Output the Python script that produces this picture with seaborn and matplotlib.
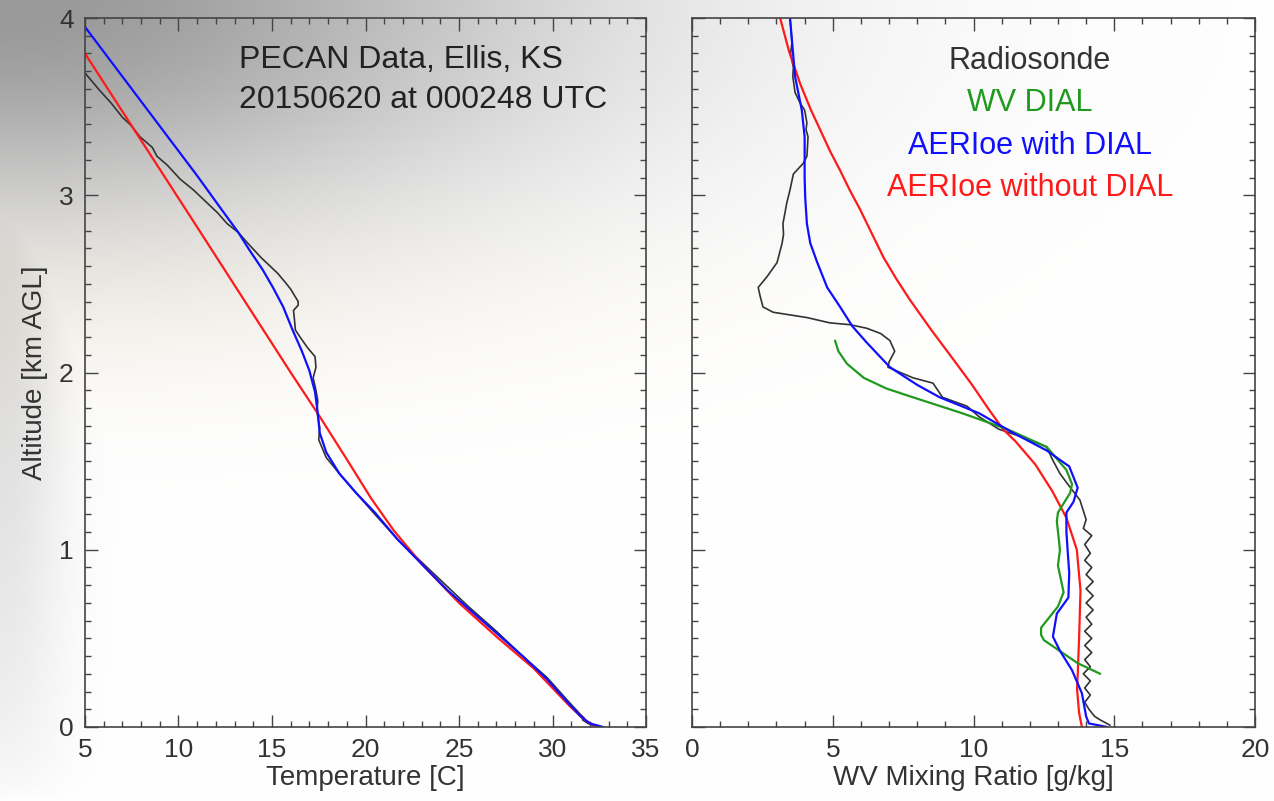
import numpy as np
import matplotlib
matplotlib.use("Agg")
import matplotlib.pyplot as plt
import seaborn as sns

# ---- data ----
# temperature panel (x = deg C, y = km AGL)
t_sonde = [5.0, 5.8, 6.4, 6.7, 7.0, 7.5, 7.94, 8.6, 8.85, 9.4, 10.1, 10.8, 11.5, 12.1,
           12.6, 13.2, 13.7, 14.4, 14.8, 15.3, 15.7, 16.0, 16.4, 16.4, 16.15, 16.2, 16.25,
           16.5, 16.9, 17.3, 17.35, 17.2, 17.35, 17.45, 17.4, 17.5, 17.55, 17.5, 17.7, 17.9,
           18.6, 19.5, 20.5, 21.7, 22.8, 24.0, 24.6, 25.5, 27.0, 28.3, 29.7, 30.8, 31.5,
           31.7, 31.6, 31.9, 32.4]
z_t_sonde = [3.69, 3.59, 3.52, 3.48, 3.44, 3.39, 3.33, 3.27, 3.22, 3.17, 3.09, 3.03, 2.96, 2.90,
             2.84, 2.79, 2.73, 2.65, 2.61, 2.56, 2.51, 2.47, 2.40, 2.38, 2.35, 2.30, 2.24,
             2.20, 2.14, 2.09, 2.03, 1.97, 1.90, 1.84, 1.78, 1.72, 1.69, 1.62, 1.57, 1.52,
             1.43, 1.32, 1.20, 1.06, 0.95, 0.83, 0.77, 0.68, 0.54, 0.41, 0.28, 0.15, 0.07,
             0.05, 0.04, 0.02, 0.0]

t_with = [5.0, 6.5, 8.0, 9.5, 11.0, 12.3, 13.2, 13.8, 14.5, 15.05, 15.6, 16.1, 16.6, 17.0,
          17.3, 17.45, 17.55, 17.9, 18.6, 19.5, 20.5, 21.7, 23.0, 24.4, 25.7, 27.0, 28.4,
          29.7, 30.8, 31.5, 32.0, 32.7]
z_t_with = [3.95, 3.74, 3.53, 3.32, 3.11, 2.92, 2.79, 2.69, 2.58, 2.48, 2.37, 2.24, 2.12, 2.01,
            1.89, 1.77, 1.66, 1.55, 1.43, 1.32, 1.21, 1.06, 0.92, 0.77, 0.65, 0.53, 0.40,
            0.27, 0.14, 0.06, 0.02, 0.0]

t_without = [5.0, 8.0, 11.0, 13.5, 16.0, 17.5, 19.0, 20.3, 21.5, 23.0, 25.0, 27.0, 29.0,
             30.9, 31.6, 32.3]
z_t_without = [3.80, 3.31, 2.82, 2.41, 2.00, 1.76, 1.51, 1.29, 1.11, 0.92, 0.70, 0.51, 0.33,
               0.12, 0.05, 0.0]

# water vapour panel (x = g/kg, y = km AGL)
w_sonde = [3.48, 3.52, 3.55, 3.5, 3.6, 3.58, 3.66, 3.84, 4.0, 4.08, 4.05, 4.12, 4.1, 4.08,
           3.95, 3.6, 3.48, 3.37, 3.3, 3.23, 3.25, 3.2, 3.02, 2.66, 2.35, 2.42, 2.52, 2.88,
           4.08, 4.9, 5.6, 6.2, 6.7, 7.03, 7.2, 7.0, 6.96, 7.4, 7.85, 8.56, 8.9, 9.77, 10.2,
           10.9, 11.65, 12.6, 12.8, 13.07, 13.3, 13.78, 14.0, 13.9, 14.2, 13.95, 14.15, 13.95,
           14.2, 14.0, 14.25, 14.0, 14.25, 14.0, 14.25, 14.0, 14.2, 13.95, 14.2, 13.95, 14.2,
           13.95, 14.15, 13.9, 14.15, 13.95, 14.15, 13.95, 14.1, 14.3, 14.5, 14.85]
z_w_sonde = [4.0, 3.93, 3.86, 3.80, 3.72, 3.67, 3.58, 3.52, 3.48, 3.41, 3.37, 3.33, 3.27, 3.22,
             3.18, 3.12, 3.03, 2.96, 2.90, 2.84, 2.78, 2.73, 2.62, 2.54, 2.48, 2.43, 2.37, 2.34,
             2.31, 2.28, 2.27, 2.25, 2.22, 2.18, 2.12, 2.06, 2.03, 2.00, 1.97, 1.94, 1.86, 1.81, 1.75,
             1.68, 1.64, 1.58, 1.51, 1.43, 1.38, 1.28, 1.17, 1.12, 1.08, 1.03, 0.98, 0.94,
             0.90, 0.86, 0.82, 0.78, 0.74, 0.70, 0.66, 0.62, 0.58, 0.54, 0.50, 0.46, 0.42,
             0.38, 0.34, 0.30, 0.26, 0.22, 0.18, 0.14, 0.10, 0.06, 0.04, 0.01]

w_dial = [5.08, 5.2, 5.5, 6.1, 6.9, 7.85, 9.6, 11.2, 12.6, 13.3, 13.5, 13.43, 13.0, 12.96,
          13.07, 13.0, 13.2, 13.0, 12.4, 12.4, 12.5, 13.7, 14.5]
z_w_dial = [2.18, 2.12, 2.05, 1.97, 1.91, 1.86, 1.77, 1.68, 1.58, 1.45, 1.37, 1.32, 1.21, 1.16,
            1.0, 0.91, 0.76, 0.68, 0.56, 0.52, 0.49, 0.36, 0.30]

w_with = [3.48, 3.66, 3.9, 4.0, 4.0, 4.02, 4.08, 4.2, 4.45, 4.8, 5.26, 5.7, 6.2, 7.03, 8.0,
          8.8, 10.2, 11.4, 12.6, 13.4, 13.7, 13.55, 13.3, 13.3, 13.35, 13.4, 13.37, 12.96,
          12.82, 13.07, 13.5, 13.85, 14.0, 14.1, 14.75]
z_w_with = [4.0, 3.67, 3.48, 3.33, 3.10, 2.99, 2.84, 2.73, 2.62, 2.48, 2.37, 2.26, 2.17, 2.03, 1.93,
            1.86, 1.77, 1.66, 1.56, 1.47, 1.35, 1.27, 1.21, 1.10, 0.98, 0.87, 0.73, 0.64,
            0.51, 0.43, 0.32, 0.19, 0.06, 0.02, 0.0]

w_without = [3.13, 3.45, 3.84, 4.2, 4.55, 4.9, 5.26, 5.6, 5.97, 6.4, 6.8, 7.25, 7.74, 8.5,
             9.3, 9.95, 10.55, 11.05, 11.5, 12.2, 12.8, 13.3, 13.67, 13.8, 13.75, 13.68,
             13.75, 13.85]
z_w_without = [4.0, 3.81, 3.63, 3.49, 3.37, 3.25, 3.14, 3.03, 2.92, 2.78, 2.65, 2.53, 2.41, 2.24,
               2.07, 1.93, 1.79, 1.68, 1.61, 1.48, 1.33, 1.18, 1.0, 0.77, 0.5, 0.21, 0.08, 0.0]

labels = ["Radiosonde", "WV DIAL", "AERIoe with DIAL", "AERIoe without DIAL"]
colors = ["#333333", "#1f9a1f", "#1010ff", "#ff1a1a"]

sns.set_style("ticks")
plt.rcParams["font.family"] = ["Liberation Sans", "DejaVu Sans"]

fig = plt.figure(figsize=(12.74, 8.01), dpi=100)

# sky-like backdrop behind everything
bg = fig.add_axes([0, 0, 1, 1], zorder=-10)
u, v = np.meshgrid(np.linspace(0, 1, 400), np.linspace(0, 1, 250))
cloud = 0.40 * np.exp(-((u / 0.45) ** 2 + (v / 0.28) ** 2))
strip = 0.18 * np.exp(-(u / 0.05) ** 2) * np.sqrt(np.clip(1 - v, 0, 1))
shade = 1 - np.maximum(cloud, strip)
tint = np.exp(-((v - 0.38) / 0.12) ** 2) * np.exp(-(u / 0.45) ** 2)
img = np.dstack([shade, shade - 0.01 * tint, shade - 0.035 * tint])
bg.imshow(np.clip(img, 0, 1), aspect="auto", extent=[0, 1, 0, 1], origin="upper")
bg.axis("off")

ax1 = fig.add_axes([0.0667, 0.0924, 0.4404, 0.8851])
ax2 = fig.add_axes([0.5432, 0.0924, 0.4419, 0.8851])

lw = 1.6
sns.lineplot(x=t_sonde, y=z_t_sonde, sort=False, estimator=None, color=colors[0], lw=1.2, ax=ax1)
sns.lineplot(x=t_without, y=z_t_without, sort=False, estimator=None, color=colors[3], lw=lw, ax=ax1)
sns.lineplot(x=t_with, y=z_t_with, sort=False, estimator=None, color=colors[2], lw=lw, ax=ax1)

sns.lineplot(x=w_sonde, y=z_w_sonde, sort=False, estimator=None, color=colors[0], lw=1.2, ax=ax2)
sns.lineplot(x=w_without, y=z_w_without, sort=False, estimator=None, color=colors[3], lw=lw, ax=ax2)
sns.lineplot(x=w_dial, y=z_w_dial, sort=False, estimator=None, color=colors[1], lw=lw, ax=ax2)
sns.lineplot(x=w_with, y=z_w_with, sort=False, estimator=None, color=colors[2], lw=lw, ax=ax2)

for ax in (ax1, ax2):
    ax.set_facecolor("none")
    ax.set_ylim(0, 4)
    ax.set_yticks([0, 1, 2, 3, 4])
    ax.yaxis.set_minor_locator(matplotlib.ticker.MultipleLocator(0.1))
    ax.xaxis.set_minor_locator(matplotlib.ticker.MultipleLocator(1))
    ax.tick_params(which="both", direction="in", top=True, right=True, colors="#444444",
                   labelcolor="#333333", labelsize=19)
    ax.tick_params(which="major", length=9, width=1, pad=8)
    ax.tick_params(which="minor", length=4, width=1)
    for s in ax.spines.values():
        s.set_color("#444444")
        s.set_linewidth(1.2)

ax1.set_xlim(5, 35)
ax1.set_xticks([5, 10, 15, 20, 25, 30, 35])
ax1.set_xlabel("Temperature [C]", fontsize=20, color="#333333", labelpad=2)
ax1.set_ylabel("Altitude [km AGL]", fontsize=20, color="#333333", labelpad=8)

ax2.set_xlim(0, 20)
ax2.set_xticks([0, 5, 10, 15, 20])
ax2.set_yticklabels([])
ax2.set_xlabel("WV Mixing Ratio [g/kg]", fontsize=20, color="#333333", labelpad=2)
ax2.set_ylabel("")

ax1.text(0.563, 0.941, "PECAN Data, Ellis, KS", transform=ax1.transAxes, ha="center",
         va="center", fontsize=23, color="#222222")
ax1.text(0.603, 0.884, "20150620 at 000248 UTC", transform=ax1.transAxes, ha="center",
         va="center", fontsize=23, color="#222222")

for i, (lab, col) in enumerate(zip(labels, colors)):
    ax2.text(0.60, 0.939 - i * 0.0595, lab, transform=ax2.transAxes, ha="center", va="center",
             fontsize=22, color=col)

fig.savefig("out.png", dpi=100)
